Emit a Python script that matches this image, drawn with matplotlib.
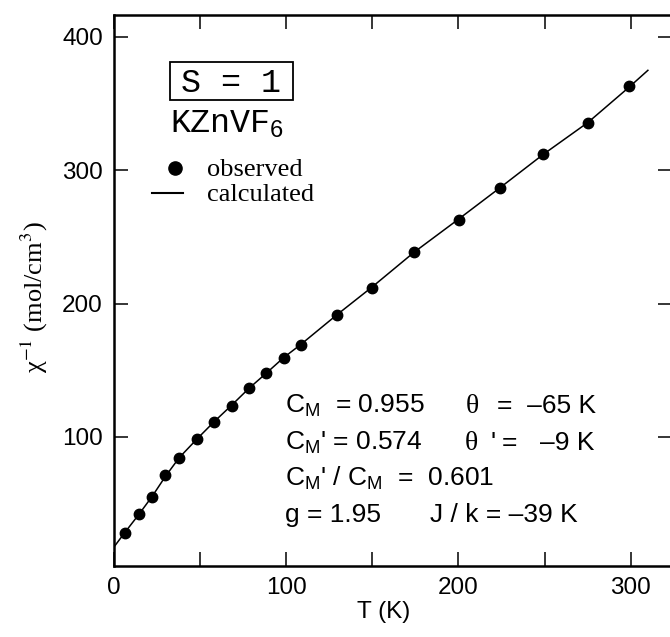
import matplotlib
matplotlib.use("Agg")
import matplotlib.pyplot as plt
from matplotlib.lines import Line2D
from matplotlib.patches import Rectangle

plt.rcParams['font.family'] = ['Liberation Sans', 'DejaVu Sans']
plt.rcParams['mathtext.fontset'] = 'custom'
plt.rcParams['mathtext.rm'] = 'Liberation Sans'
plt.rcParams['mathtext.it'] = 'Liberation Sans:italic'

# ---- data ----
obs_T = [6.4, 14.5, 22.2, 29.9, 37.9, 48.2, 58.2, 68.3, 78.4, 88.4, 98.5,
         108.6, 129.3, 149.9, 174.2, 200.2, 224.2, 249.3, 275.3, 299.2]
obs_chi_inv = [28.2, 42.3, 54.8, 71.3, 84.5, 98.3, 111.3, 123.3, 136.9, 147.8,
               159.5, 169.0, 191.5, 212.0, 238.5, 263.0, 286.8, 312.0, 335.5, 363.0]
calc_T = [0, 6.4, 14.5, 22.2, 29.9, 37.9, 48.2, 58.2, 68.3, 78.4, 88.4, 98.5,
          108.6, 129.3, 149.9, 174.2, 200.2, 224.2, 249.3, 275.3, 299.2, 310]
calc_chi_inv = [17.5, 28.5, 42.0, 55.5, 70.5, 84.5, 98.5, 111.5, 123.8, 136.5,
                147.8, 159.5, 169.5, 191.5, 212.5, 238.5, 263.5, 287.0, 312.0,
                336.0, 362.5, 375.0]
x_ticks = [0, 50, 100, 150, 200, 250, 300]
x_tick_labels = ['0', '', '100', '', '200', '', '300']
y_ticks = [100, 200, 300, 400]
y_tick_labels = ['100', '200', '300', '400']

W, H = 670, 637
fig = plt.figure(figsize=(W / 100, H / 100), dpi=100)

def fx(px):
    return px / W

def fy(py):
    return 1 - py / H

ax = fig.add_axes([fx(114), fy(566), 558 / W, (566 - 15) / H])
ax.plot(calc_T, calc_chi_inv, color='black', lw=1.1, zorder=2)
ax.plot(obs_T, obs_chi_inv, 'o', color='black', ms=7.5, zorder=3)

ax.set_xlim(0, 324)
ax.set_ylim(3.2, 416.5)
ax.set_xticks(x_ticks)
ax.set_xticklabels(x_tick_labels)
ax.set_yticks(y_ticks)
ax.set_yticklabels(y_tick_labels)
ax.tick_params(direction='in', length=10, width=1.1, top=True, right=True,
               labelsize=17.5, pad=8)
for s in ax.spines.values():
    s.set_linewidth(1.8)

# axis labels
fig.text(fx(384), fy(612), 'T (K)', ha='center', va='center', fontsize=17.5)
fig.text(fx(34), fy(297), 'χ$^{-1}$ (mol/cm$^{3}$)', rotation=90, ha='center',
         va='center', fontsize=19, family=['Liberation Serif', 'DejaVu Serif'],
         math_fontfamily='stix')

# S = 1 box and compound
fig.add_artist(Rectangle((fx(170), fy(100)), (293 - 170) / W, (100 - 62) / H,
                         transform=fig.transFigure, fill=False, lw=1.3, ec='black'))
fig.text(fx(231), fy(92), 'S = 1', ha='center', va='baseline', fontsize=24,
         family='Liberation Mono')
fig.text(fx(170), fy(132), 'KZnVF', ha='left', va='baseline', fontsize=24,
         family='Liberation Mono')
fig.text(fx(270), fy(137), '6', ha='left', va='baseline', fontsize=17)

# legend
fig.add_artist(Line2D([fx(175)], [fy(168)], marker='o', color='black', ms=9.5,
                      ls='none', transform=fig.transFigure))
fig.add_artist(Line2D([fx(152), fx(183)], [fy(193), fy(193)], color='black',
                      lw=1.5, transform=fig.transFigure))
serif = ['Liberation Serif', 'DejaVu Serif']
fig.text(fx(207), fy(176), 'observed', ha='left', va='baseline', fontsize=19, family=serif)
fig.text(fx(207), fy(201), 'calculated', ha='left', va='baseline', fontsize=19, family=serif)

# parameter block
fs = 19
fig.text(fx(285), fy(413), r'C$_{\rm M}$  = 0.955', ha='left', va='baseline', fontsize=fs)
fig.text(fx(466), fy(413), 'θ', ha='left', va='baseline', fontsize=fs + 1, family=serif)
fig.text(fx(497), fy(413), '=  –65 K', ha='left', va='baseline', fontsize=fs)

fig.text(fx(285), fy(449.5), r"C$_{\rm M}$' = 0.574", ha='left', va='baseline', fontsize=fs)
fig.text(fx(465), fy(449.5), 'θ', ha='left', va='baseline', fontsize=fs + 1, family=serif)
fig.text(fx(491), fy(449.5), "'", ha='left', va='baseline', fontsize=fs)
fig.text(fx(502), fy(449.5), '=', ha='left', va='baseline', fontsize=fs)
fig.text(fx(540), fy(449.5), '–9 K', ha='left', va='baseline', fontsize=fs)

fig.text(fx(285), fy(486), r"C$_{\rm M}$' / C$_{\rm M}$  =  0.601", ha='left',
         va='baseline', fontsize=fs)

fig.text(fx(285), fy(522), 'g = 1.95', ha='left', va='baseline', fontsize=fs)
fig.text(fx(430), fy(522), 'J / k = –39 K', ha='left', va='baseline', fontsize=fs)

fig.savefig('out.png', dpi=100)
